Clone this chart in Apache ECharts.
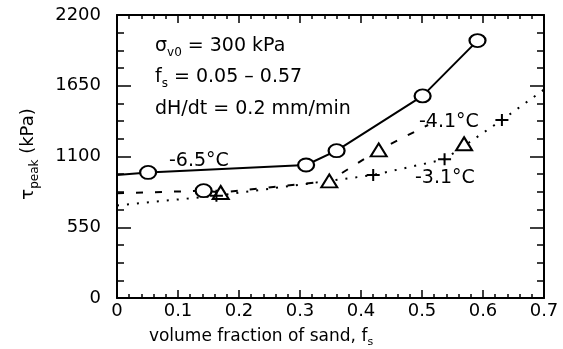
<!DOCTYPE html>
<html><head><meta charset="utf-8">
<script src="https://cdn.jsdelivr.net/npm/echarts@6/dist/echarts.min.js"></script>
<style>html,body{margin:0;padding:0;background:#fff}#c{width:563px;height:349px}</style>
</head><body><div id="c"></div>
<script>
// ---- data ----
const xTickLabels = ['0','0.1','0.2','0.3','0.4','0.5','0.6','0.7'];
const yTickLabels = ['0','550','1100','1650','2200'];

// -6.5 °C (solid line, open circles)
const fsLine65 = [0, 0.051, 0.310, 0.360, 0.501, 0.591];
const tauLine65 = [956, 976, 1034, 1145, 1571, 2001];
const fsCirc65 = [0.051, 0.310, 0.360, 0.501, 0.591];
const tauCirc65 = [976, 1034, 1145, 1571, 2001];

// -4.1 °C (dashed line, open triangles, one open circle)
const fsLine41 = [0, 0.142, 0.170, 0.348, 0.429, 0.51];
const tauLine41 = [814, 834, 820, 910, 1151, 1345];
const fsTri41 = [0.170, 0.348, 0.429, 0.569];
const tauTri41 = [820, 910, 1151, 1199];
const fsCirc41 = [0.142];
const tauCirc41 = [834];

// -3.1 °C (dotted line, plus markers)
const fsLine31 = [0, 0.163, 0.420, 0.537, 0.631, 0.7];
const tauLine31 = [720, 795, 956, 1078, 1384, 1620];
const fsPlus31 = [0.163, 0.420, 0.537, 0.631];
const tauPlus31 = [795, 956, 1078, 1384];

// ---- chart ----
const zip = (a, b) => a.map((v, i) => [v, b[i]]);
const FONT = 'DejaVu Sans';
const chart = echarts.init(document.getElementById('c'), null, {renderer: 'canvas'});

const xAxisBase = {
  type: 'value', min: 0, max: 0.7, interval: 0.1,
  axisLine: {show: true, onZero: false, lineStyle: {color: '#000', width: 2}},
  axisTick: {show: true, inside: true, length: 8, lineStyle: {color: '#000', width: 1.5}},
  minorTick: {show: true, splitNumber: 5, length: 4, lineStyle: {color: '#000', width: 1.5}},
  splitLine: {show: false}, minorSplitLine: {show: false}
};
const yAxisBase = {
  type: 'value', min: 0, max: 2200, interval: 550,
  axisLine: {show: true, onZero: false, lineStyle: {color: '#000', width: 2}},
  axisTick: {show: true, inside: true, length: 14, lineStyle: {color: '#000', width: 1.5}},
  minorTick: {show: true, splitNumber: 4, length: 7, lineStyle: {color: '#000', width: 1.5}},
  splitLine: {show: false}, minorSplitLine: {show: false}
};

const markerStyle = {color: '#fff', borderColor: '#000', borderWidth: 2, opacity: 1};
const plusPath = 'path://M0,5L13,5L13,7L0,7Z M5.5,0L7.5,0L7.5,12L5.5,12Z';

const option = {
  animation: false,
  backgroundColor: '#fff',
  grid: {left: 117, top: 15, right: 19, bottom: 51, containLabel: false},
  xAxis: [
    Object.assign({}, xAxisBase, {
      position: 'bottom',
      axisLabel: {show: true, margin: 4, color: '#000', fontFamily: FONT, fontSize: 18,
        formatter: (v) => xTickLabels[Math.round(v * 10)]}
    }),
    Object.assign({}, xAxisBase, {position: 'top', axisLabel: {show: false}})
  ],
  yAxis: [
    Object.assign({}, yAxisBase, {
      position: 'left',
      axisLabel: {show: true, margin: 16, color: '#000', fontFamily: FONT, fontSize: 18,
        formatter: (v) => yTickLabels[Math.round(v / 550)]}
    }),
    Object.assign({}, yAxisBase, {position: 'right', axisLabel: {show: false}})
  ],
  series: [
    {type: 'line', name: '-6.5°C', data: zip(fsLine65, tauLine65), symbol: 'none',
     lineStyle: {color: '#000', width: 2}, z: 2},
    {type: 'line', name: '-4.1°C', data: zip(fsLine41, tauLine41), symbol: 'none',
     lineStyle: {color: '#000', width: 2, type: [7, 12]}, z: 2},
    {type: 'line', name: '-3.1°C', data: zip(fsLine31, tauLine31), symbol: 'none',
     lineStyle: {color: '#000', width: 2, type: [2, 8]}, z: 2},
    {type: 'scatter', data: zip(fsCirc65, tauCirc65), symbol: 'circle', symbolSize: [16, 13],
     itemStyle: markerStyle, z: 5},
    {type: 'scatter', data: zip(fsCirc41, tauCirc41), symbol: 'circle', symbolSize: [16, 13],
     itemStyle: markerStyle, z: 5},
    {type: 'scatter', data: zip(fsTri41, tauTri41), symbol: 'triangle', symbolSize: [16, 13],
     itemStyle: markerStyle, z: 5},
    {type: 'scatter', data: zip(fsPlus31, tauPlus31), symbol: plusPath, symbolSize: [13, 12],
     itemStyle: {color: '#000', opacity: 1}, z: 5}
  ],
  graphic: [
    // annotation block
    {type: 'text', x: 155, y: 48, z: 10, style: {
      text: '{m|σ}{s|v0}{m| = 300 kPa}', verticalAlign: 'middle', fill: '#000',
      rich: {m: {fontFamily: FONT, fontSize: 19, lineHeight: 22, verticalAlign: 'top'},
             s: {fontFamily: FONT, fontSize: 12, lineHeight: 12, verticalAlign: 'bottom'}}}},
    {type: 'text', x: 155, y: 79, z: 10, style: {
      text: '{m|f}{s|s}{m| = 0.05 – 0.57}', verticalAlign: 'middle', fill: '#000',
      rich: {m: {fontFamily: FONT, fontSize: 19, lineHeight: 22, verticalAlign: 'top'},
             s: {fontFamily: FONT, fontSize: 12, lineHeight: 12, verticalAlign: 'bottom'}}}},
    {type: 'text', x: 155, y: 109, z: 10, style: {
      text: 'dH/dt = 0.2 mm/min', verticalAlign: 'middle', fill: '#000',
      fontFamily: FONT, fontSize: 19}},
    // series labels
    {type: 'text', x: 169, y: 161, z: 10, style: {text: '-6.5°C', verticalAlign: 'middle', fill: '#000', fontFamily: FONT, fontSize: 19}},
    {type: 'text', x: 419, y: 122, z: 10, style: {text: '-4.1°C', verticalAlign: 'middle', fill: '#000', fontFamily: FONT, fontSize: 19}},
    {type: 'text', x: 415, y: 178, z: 10, style: {text: '-3.1°C', verticalAlign: 'middle', fill: '#000', fontFamily: FONT, fontSize: 19}},
    // axis titles
    {type: 'text', x: 261, y: 338, z: 10, style: {
      text: '{m|volume fraction of sand, f}{s|s}', align: 'center', verticalAlign: 'middle', fill: '#000',
      rich: {m: {fontFamily: FONT, fontSize: 17, lineHeight: 20, verticalAlign: 'top'},
             s: {fontFamily: FONT, fontSize: 11, lineHeight: 11, verticalAlign: 'bottom'}}}},
    {type: 'text', x: 30, y: 154, rotation: Math.PI / 2, z: 10, style: {
      text: '{m|τ}{s|peak}{m| (kPa)}', align: 'center', verticalAlign: 'middle', fill: '#000',
      rich: {m: {fontFamily: FONT, fontSize: 18, lineHeight: 22, verticalAlign: 'top'},
             s: {fontFamily: FONT, fontSize: 12, lineHeight: 12, verticalAlign: 'bottom'}}}}
  ]
};
chart.setOption(option);
</script>
</body></html>
